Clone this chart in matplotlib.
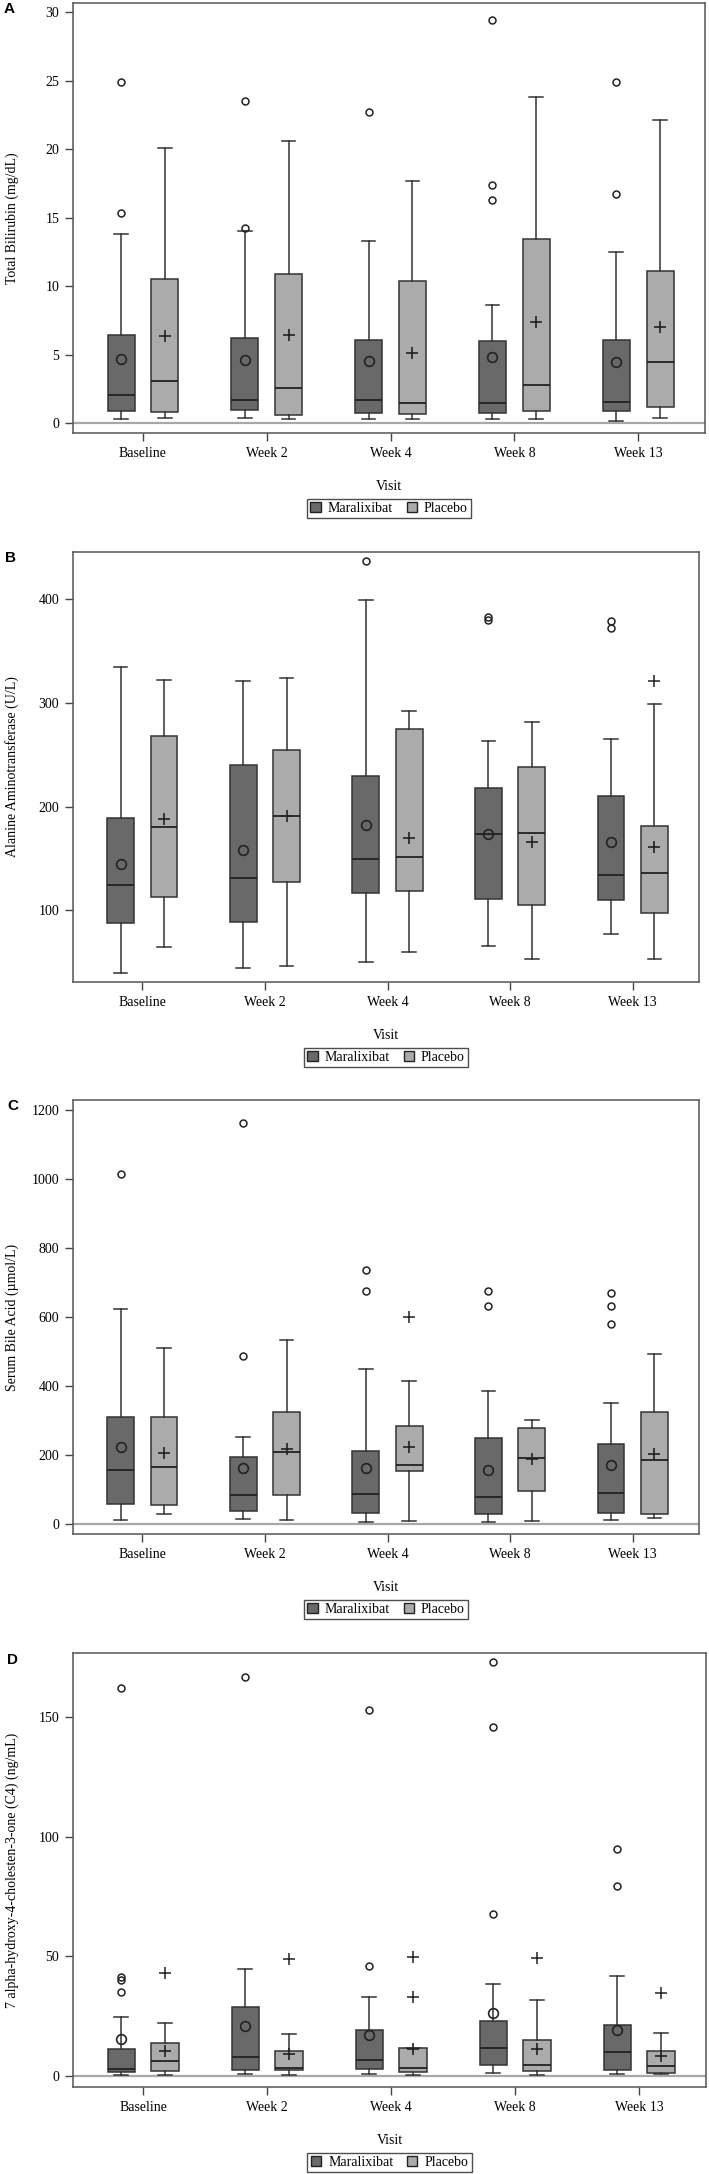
import numpy as np
import matplotlib.pyplot as plt
from matplotlib.patches import Patch

plt.rcParams['font.family'] = ['Liberation Serif', 'DejaVu Serif']

visits = ['Baseline', 'Week 2', 'Week 4', 'Week 8', 'Week 13']
groups = ['Maralixibat', 'Placebo']

# each row: [whisker low, q1, median, q3, whisker high, mean] per visit
tb_mar = [[0.29, 0.88, 2.07, 6.41, 13.8, 4.70],
          [0.39, 0.97, 1.71, 6.24, 14.0, 4.63],
          [0.29, 0.76, 1.71, 6.09, 13.3, 4.51],
          [0.29, 0.73, 1.49, 5.95, 8.6, 4.83],
          [0.17, 0.88, 1.54, 6.09, 12.5, 4.46]]
tb_mar_out = [[15.3, 24.9], [14.2, 23.5], [22.7], [16.3, 17.4, 29.4], [16.7, 24.9]]
tb_pla = [[0.39, 0.80, 3.10, 10.5, 20.1, 6.36],
          [0.29, 0.61, 2.58, 10.85, 20.6, 6.46],
          [0.29, 0.68, 1.49, 10.38, 17.7, 5.14],
          [0.29, 0.88, 2.78, 13.4, 23.8, 7.38],
          [0.39, 1.17, 4.48, 11.07, 22.1, 6.99]]
tb_pla_out = [[], [], [], [], []]

alt_mar = [[40, 88, 124, 189, 335, 145],
           [44, 89, 131, 240, 321, 158],
           [50, 117, 150, 230, 399, 182],
           [66, 111, 174, 218, 263, 174],
           [77, 110, 134, 210, 265, 166]]
alt_mar_out = [[], [], [437], [380, 383], [372, 379]]
alt_pla = [[65, 113, 180, 268, 322, 188],
           [46, 127, 191, 255, 324, 191],
           [60, 119, 151, 275, 292, 170],
           [53, 105, 175, 238, 282, 166],
           [53, 97, 136, 181, 299, 161]]
alt_pla_out = [[], [], [], [], [321]]

sba_mar = [[10, 57, 156, 310, 624, 222],
           [14, 38, 82, 194, 250, 161],
           [6, 32, 87, 210, 450, 161],
           [6, 29, 76, 248, 384, 155],
           [12, 32, 89, 232, 350, 169]]
sba_mar_out = [[1015], [486, 1161], [676, 737], [631, 675], [580, 632, 669]]
sba_pla = [[28, 55, 163, 310, 510, 204],
           [12, 83, 209, 324, 532, 217],
           [9, 152, 169, 284, 414, 223],
           [7, 96, 191, 278, 302, 189],
           [15, 29, 185, 324, 493, 202]]
sba_pla_out = [[], [], [600], [], []]

c4_mar = [[0.4, 1.5, 2.9, 11.4, 24.7, 15.3],
          [0.7, 2.6, 7.9, 28.8, 44.7, 21.0],
          [0.9, 2.8, 6.5, 19.2, 33.0, 17.3],
          [1.3, 4.5, 11.6, 23.1, 38.6, 26.2],
          [1.0, 2.6, 9.9, 21.4, 41.9, 19.2]]
c4_mar_out = [[35.0, 40.1, 41.2, 162.0], [166.6], [46.0, 152.9], [67.6, 145.7, 172.9], [79.4, 94.8]]
c4_pla = [[0.4, 2.2, 6.3, 13.8, 22.3, 10.4],
          [0.6, 2.5, 3.5, 10.4, 17.6, 9.1],
          [0.3, 1.8, 3.2, 11.8, 11.8, 11.3],
          [0.4, 2.1, 4.5, 14.9, 31.8, 11.3],
          [1.0, 1.1, 4.1, 10.4, 18.0, 8.5]]
c4_pla_out = [[43.2], [48.9], [33.2, 49.8], [49.2], [34.7]]

W, H = 709, 2174
dark, light = '#696969', '#ababab'

panels = [
    # letter, ylabel, data, axes box in px (left, top, right, bottom), ylim, yticks, zero line, letter pos
    ('A', 'Total Bilirubin (mg/dL)', tb_mar, tb_mar_out, tb_pla, tb_pla_out,
     (73, 3, 705, 433), (-0.73, 30.66), [0, 5, 10, 15, 20, 25, 30], True, (9, 9)),
    ('B', 'Alanine Aminotransferase (U/L)', alt_mar, alt_mar_out, alt_pla, alt_pla_out,
     (73, 552, 699, 982), (30.9, 445.7), [100, 200, 300, 400], False, (10, 558)),
    ('C', 'Serum Bile Acid (µmol/L)', sba_mar, sba_mar_out, sba_pla, sba_pla_out,
     (73, 1100, 699, 1534), (-30, 1229), [0, 200, 400, 600, 800, 1000, 1200], True, (13, 1106)),
    ('D', '7 alpha-hydroxy-4-cholesten-3-one (C4) (ng/mL)', c4_mar, c4_mar_out, c4_pla, c4_pla_out,
     (73, 1653, 706, 2087), (-4.6, 176.7), [0, 50, 100, 150], True, (13, 1660)),
]


def make_stats(rows, outs):
    stats = []
    for r, o in zip(rows, outs):
        stats.append(dict(whislo=r[0], q1=r[1], med=r[2], q3=r[3], whishi=r[4],
                          mean=r[5], fliers=np.array(o)))
    return stats


fig = plt.figure(figsize=(W / 100, H / 100), dpi=100)

for letter, ylab, m, mo, p, po, box, ylim, yticks, zero, lpos in panels:
    l, t, r, b = box
    ax = fig.add_axes([l / W, 1 - b / H, (r - l) / W, (b - t) / H])
    x = np.arange(len(visits))
    if zero:
        ax.axhline(0, color='#a8a8a8', lw=1.6, zorder=1)
    for stats, pos, col, mk, ms_mean, ms_out in [
            (make_stats(m, mo), x - 0.177, dark, 'o', 7, 5),
            (make_stats(p, po), x + 0.177, light, '+', 9, 8)]:
        ax.bxp(stats, positions=pos, widths=0.218, patch_artist=True, showmeans=True,
               boxprops=dict(facecolor=col, edgecolor='#333333', lw=1.1),
               medianprops=dict(color='#222222', lw=1.3),
               whiskerprops=dict(color='#333333', lw=1.1),
               capprops=dict(color='#333333', lw=1.1), capwidths=0.11,
               meanprops=dict(marker=mk, markersize=ms_mean, markerfacecolor='none',
                              markeredgecolor='#222222', markeredgewidth=1.2),
               flierprops=dict(marker=mk, markersize=ms_out, markerfacecolor='none',
                               markeredgecolor='#222222', markeredgewidth=1.1),
               manage_ticks=False, zorder=2)
    ax.set_xlim(-0.565, 4.54)
    ax.set_ylim(*ylim)
    ax.set_xticks(x)
    ax.set_xticklabels(visits, fontsize=10)
    ax.set_yticks(yticks)
    ax.set_yticklabels([str(v) for v in yticks], fontsize=10)
    ax.tick_params(length=6, width=1, color='#444444', pad=4)
    for s in ax.spines.values():
        s.set_color('#555555')
        s.set_linewidth(1.1)
    hpx = b - t
    ax.set_xlabel('Visit', fontsize=10)
    ax.xaxis.set_label_coords(0.5, -47 / hpx)
    ax.set_ylabel(ylab, fontsize=10)
    ax.yaxis.set_label_coords((19 - l) / (r - l), 0.5)
    handles = [Patch(facecolor=dark, edgecolor='#222222', lw=1),
               Patch(facecolor=light, edgecolor='#222222', lw=1)]
    leg = ax.legend(handles, groups, loc='center', bbox_to_anchor=(0.5, -75.5 / hpx),
                    ncol=2, fontsize=10, frameon=True, fancybox=False,
                    handlelength=0.75, handleheight=0.75, handletextpad=0.5,
                    columnspacing=1.0, borderpad=0.25)
    leg.get_frame().set_edgecolor('#222222')
    leg.get_frame().set_linewidth(1)
    fig.text(lpos[0] / W, 1 - lpos[1] / H, letter, ha='center', va='center',
             fontsize=11, fontweight='bold', family='Liberation Sans')

fig.savefig('out.png', dpi=100)
